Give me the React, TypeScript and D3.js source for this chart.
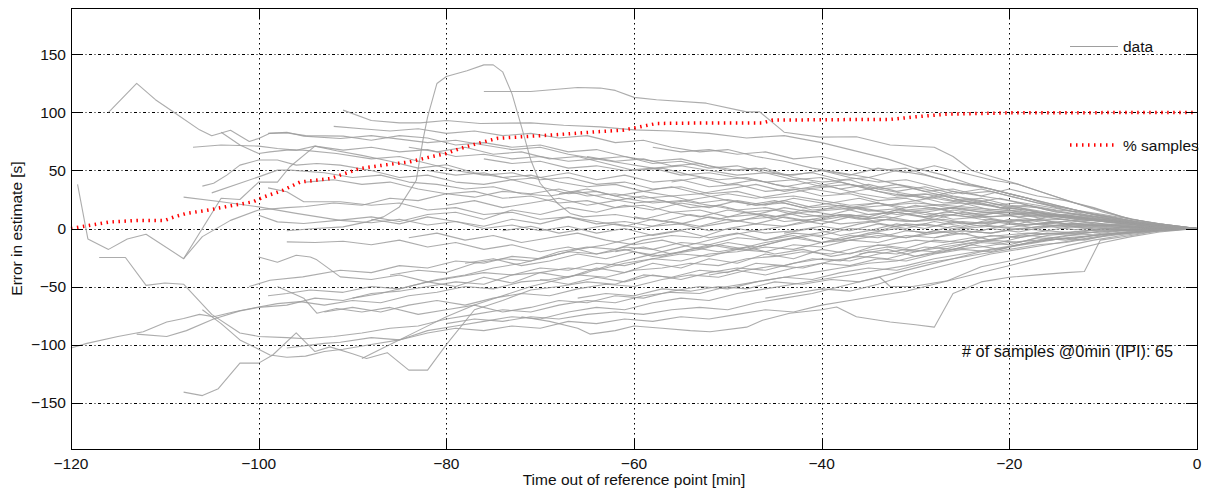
import React from 'react';
import * as d3 from 'd3';

// axis ticks
const xTicks = [-120, -100, -80, -60, -40, -20, 0];
const xTickLabels = ['−120', '−100', '−80', '−60', '−40', '−20', '0'];
const yTicks = [-150, -100, -50, 0, 50, 100, 150];
const yTickLabels = ['−150', '−100', '−50', '0', '50', '100', '150'];

// % of samples available at each time
const pctTime = [-120, -118.5, -116, -113, -110, -109, -107.7, -105.5, -102.7, -100.6, -99.5, -97.4, -95.6, -92.4, -89.2, -86.7, -83.9, -81.7, -80, -78.5, -76.8, -74.6, -73.2, -68, -64, -61.2, -60.1, -57.6, -52, -46.3, -45.2, -38, -32.7, -30.3, -26.7, -19.9, 0];
const pctValue = [0, 2, 5.5, 7, 7, 10, 13, 15.7, 20, 23, 27, 33, 40, 43, 51.7, 54.6, 57.4, 61.7, 64.6, 69, 73, 77.6, 78.4, 81, 83.3, 84.7, 86.4, 90.5, 91, 91, 93.4, 93.8, 94, 96, 98.5, 99.7, 100];

// error traces [minutes, seconds], one per sample
const traces: [number, number][][] = [
  [[-116,100],[-113,125],[-111,111],[-109,100],[-106.3,85],[-105,80],[-103,84.7],[-101,75],[-100,77.6],[-98.8,82],[-97,82.4],[-95,80],[-91,79.6],[-88,76],[-85,80],[-82,78],[-79,72],[-76,74],[-73,70],[-70,72],[-67,66],[-64,68],[-61,62],[-58,58],[-55,60],[-52,54],[-49,50],[-46,52],[-43,44],[-40,40],[-37,42],[-34,34],[-31,30],[-28,26],[-25,22],[-22,20],[-19,14],[-16,12],[-13,8],[-10,6],[-7,4],[-4,2],[0,0]],
  [[-119.3,38],[-118.2,-9],[-116,-18],[-114,-9],[-112,-5],[-108,-26],[-104,26],[-102,25],[-100,40],[-98,40],[-96.7,53],[-94,71],[-91.7,67],[-89,63],[-86,58],[-83,52],[-80,55],[-77,48],[-74,44],[-71,46],[-68,40],[-65,36],[-62,38],[-59,32],[-56,28],[-53,30],[-50,24],[-47,20],[-44,22],[-41,16],[-38,18],[-35,12],[-32,14],[-29,10],[-26,12],[-23,8],[-20,6],[-17,8],[-14,4],[-11,5],[-8,2],[-5,1],[0,0]],
  [[-108,-26],[-106,-7],[-103,7],[-100,16],[-97,18],[-95,19],[-92,22],[-89,20],[-86,26],[-83,24],[-80,30],[-77,27],[-74,32],[-71,30],[-68,34],[-65,28],[-62,30],[-59,26],[-56,28],[-53,22],[-50,25],[-47,20],[-44,24],[-41,18],[-38,20],[-35,15],[-32,17],[-29,12],[-26,14],[-23,10],[-20,11],[-17,7],[-14,8],[-11,4],[-8,3],[-5,1],[0,0]],
  [[-108,27],[-104,23],[-100,18.6],[-96,13],[-91.3,7],[-88,5],[-85,8],[-82,3],[-79,6],[-76,0],[-73,3],[-70,-2],[-67,2],[-64,-4],[-61,0],[-58,-6],[-55,-2],[-52,-8],[-49,-4],[-46,-10],[-43,-6],[-40,-12],[-37,-8],[-34,-4],[-31,-8],[-28,-2],[-25,-5],[-22,0],[-19,-3],[-16,2],[-13,-1],[-10,1],[-7,-1],[-4,0],[0,0]],
  [[-117,-25],[-114.2,-25],[-112,-49],[-110,-47],[-108,-48],[-105,-74],[-102,-90],[-100,-93],[-97,-94],[-95,-95],[-92,-93],[-89,-90],[-86,-86],[-83,-84],[-80,-78],[-77,-74],[-74,-70],[-71,-72],[-68,-66],[-65,-62],[-62,-64],[-59,-58],[-56,-55],[-53,-56],[-50,-50],[-47,-46],[-44,-42],[-41,-38],[-38,-34],[-35,-30],[-32,-28],[-29,-22],[-26,-18],[-23,-16],[-20,-12],[-17,-10],[-14,-6],[-11,-5],[-8,-2],[-5,-1],[0,0]],
  [[-106,-70],[-104,-82],[-102,-96],[-100,-104],[-98.8,-109],[-97,-111],[-95,-110],[-93,-106],[-91,-104],[-88,-100],[-85,-96],[-82,-88],[-79,-84],[-76,-80],[-73,-76],[-70,-78],[-67,-72],[-64,-68],[-61,-70],[-58,-64],[-55,-60],[-52,-62],[-49,-56],[-46,-52],[-43,-48],[-40,-44],[-37,-40],[-34,-36],[-31,-32],[-28,-26],[-25,-22],[-22,-18],[-19,-14],[-16,-10],[-13,-8],[-10,-5],[-7,-3],[-4,-1],[0,0]],
  [[-108,-141],[-106,-144],[-104.3,-138],[-102,-116],[-100,-116],[-98.5,-109],[-96,-90],[-94,-106],[-92.4,-102],[-90,-108],[-88.5,-112],[-86.3,-107],[-84,-122],[-82,-122],[-80,-100],[-77,-70],[-74,-62],[-71,-53],[-68,-50],[-65,-46],[-62,-48],[-59,-40],[-56,-42],[-53,-36],[-50,-38],[-47,-30],[-44,-32],[-41,-26],[-38,-28],[-35,-20],[-32,-22],[-29,-16],[-26,-18],[-23,-12],[-20,-14],[-17,-8],[-14,-10],[-11,-6],[-8,-4],[-5,-2],[0,0]],
  [[-120,-103],[-118.3,-99],[-115,-93],[-112.3,-89],[-109.8,-80.5],[-108,-77.6],[-106.3,-74],[-104.8,-76],[-102.7,-72],[-100,-67.6],[-98,-64.7],[-95.6,-63],[-93,-66],[-90,-62],[-87,-64],[-84,-58],[-81,-55],[-78,-50],[-75,-52],[-72,-46],[-69,-44],[-66,-40],[-63,-42],[-60,-36],[-57,-34],[-54,-30],[-51,-32],[-48,-26],[-45,-24],[-42,-20],[-39,-22],[-36,-16],[-33,-14],[-30,-10],[-27,-12],[-24,-8],[-21,-6],[-18,-4],[-15,-5],[-12,-2],[-9,-1],[-5,0],[0,0]],
  [[-113,-91],[-109.8,-93],[-107.7,-88],[-104.8,-78],[-102,-71],[-100,-68],[-97,-66],[-94,-60],[-91,-62],[-88,-56],[-85,-54],[-82,-50],[-79,-46],[-76,-48],[-73,-40],[-70,-38],[-67,-34],[-64,-36],[-61,-30],[-58,-26],[-55,-28],[-52,-22],[-49,-20],[-46,-16],[-43,-18],[-40,-12],[-37,-10],[-34,-6],[-31,-8],[-28,-4],[-25,-2],[-22,-4],[-19,0],[-16,2],[-13,4],[-10,3],[-6,1],[0,0]],
  [[-76,118],[-71,118],[-66,121.5],[-63.6,121],[-62,119],[-60,113],[-57.6,111],[-52.3,108],[-48,100.5],[-46.6,100.5],[-44,83],[-40.2,78.7],[-36.3,79],[-32.7,72],[-28,70],[-26,62],[-24,50],[-22,45],[-19,38],[-16,30],[-13,22],[-10,15],[-7,8],[-4,4],[0,0]],
  [[-97,-2],[-94,0],[-91,1.4],[-88.5,5.7],[-86.7,10],[-85,18.6],[-83.2,41.6],[-82.5,76],[-82,96],[-81,125],[-80,131],[-77.8,136],[-76,141],[-75,141],[-74,135],[-73,116],[-72,88],[-71,59],[-70,39],[-68.2,22],[-66.8,13],[-65.4,10],[-62,12],[-59,8],[-56,14],[-53,10],[-50,16],[-47,12],[-44,18],[-41,14],[-38,20],[-35,16],[-32,12],[-29,14],[-26,8],[-23,10],[-20,6],[-17,8],[-14,4],[-11,3],[-8,2],[-5,1],[0,0]],
  [[-91,102],[-88,93],[-85,91],[-82.8,91],[-80,93],[-76.4,90.5],[-71,91],[-67.5,89],[-63.6,87.6],[-60,85],[-56,84],[-52,82],[-48,78],[-44,80],[-40,74],[-36,66],[-33,60],[-30,52],[-27,46],[-24,38],[-21,32],[-18,26],[-15,18],[-12,12],[-9,8],[-6,4],[-3,2],[0,0]],
  [[-107,70],[-104,72],[-100,71],[-98,69],[-96,67.5],[-94,71],[-91,67.5],[-88,70],[-85,66],[-82,68],[-79,62],[-76,64],[-73,60],[-70,62],[-67,58],[-64,60],[-61,56],[-58,52],[-55,54],[-52,50],[-49,46],[-46,48],[-43,42],[-40,44],[-37,38],[-34,34],[-31,36],[-28,30],[-25,26],[-22,22],[-19,18],[-16,14],[-13,10],[-10,8],[-7,5],[-4,2],[0,0]],
  [[-104,83],[-102,72],[-100,64.6],[-98.8,66],[-97,67.5],[-95.3,67.5],[-91.7,64.6],[-88,60],[-85,62],[-82,56],[-79,50],[-76,46],[-73,48],[-70,42],[-67,44],[-64,38],[-61,40],[-58,34],[-55,36],[-52,30],[-49,32],[-46,26],[-43,28],[-40,24],[-37,20],[-34,22],[-31,18],[-28,20],[-25,16],[-22,14],[-19,16],[-16,10],[-13,12],[-10,8],[-7,5],[-4,3],[0,0]],
  [[-106,36.5],[-104.8,39],[-103.4,46],[-102,54.6],[-100,59],[-98,59],[-96,54.6],[-93.8,56],[-91.3,54.6],[-88,50],[-85,44],[-82,46],[-79,40],[-76,38],[-73,42],[-70,36],[-67,30],[-64,32],[-61,26],[-58,22],[-55,24],[-52,20],[-49,16],[-46,18],[-43,14],[-40,10],[-37,12],[-34,8],[-31,6],[-28,8],[-25,4],[-22,6],[-19,3],[-16,5],[-13,2],[-10,3],[-6,1],[0,0]],
  [[-99,82],[-97,83],[-95.2,79.6],[-91.3,77.6],[-88,80],[-85,77],[-82,74],[-79,76],[-76,72],[-73,68],[-70,70],[-67,64],[-64,60],[-61,62],[-58,56],[-55,58],[-52,52],[-49,54],[-46,48],[-43,46],[-40,50],[-37,44],[-34,40],[-31,42],[-28,36],[-25,30],[-22,32],[-19,26],[-16,20],[-13,16],[-10,12],[-7,8],[-4,4],[0,0]],
  [[-105,30.7],[-100,44.5],[-98,50.3],[-96.6,50.3],[-93,48],[-90,44],[-87,46],[-84,40],[-81,38],[-78,34],[-75,36],[-72,30],[-69,28],[-66,32],[-63,26],[-60,22],[-57,24],[-54,18],[-51,20],[-48,14],[-45,16],[-42,10],[-39,12],[-36,8],[-33,10],[-30,6],[-27,8],[-24,4],[-21,6],[-18,3],[-15,5],[-12,2],[-9,3],[-6,1],[0,0]],
  [[-99,35],[-97,31.6],[-95.2,23],[-91.3,23],[-88,20],[-85,22],[-82,16],[-79,18],[-76,12],[-73,14],[-70,8],[-67,10],[-64,4],[-61,6],[-58,2],[-55,4],[-52,-2],[-49,0],[-46,-4],[-43,-2],[-40,2],[-37,-2],[-34,4],[-31,0],[-28,6],[-25,2],[-22,8],[-19,4],[-16,10],[-13,6],[-10,8],[-7,4],[-4,2],[0,0]],
  [[-100,11.5],[-98,5.7],[-95.2,4.3],[-91.3,7.2],[-88,10],[-85,6],[-82,12],[-79,14],[-76,8],[-73,16],[-70,12],[-67,18],[-64,14],[-61,20],[-58,16],[-55,22],[-52,18],[-49,24],[-46,20],[-43,26],[-40,22],[-37,18],[-34,22],[-31,16],[-28,18],[-25,12],[-22,14],[-19,10],[-16,12],[-13,8],[-10,6],[-7,4],[-4,2],[0,0]],
  [[-100,-24.5],[-98,-29],[-96,-23],[-94.5,-24.5],[-93.8,-27],[-91.3,-41.7],[-88,-44],[-85,-40],[-82,-46],[-79,-42],[-76,-38],[-73,-40],[-70,-34],[-67,-36],[-64,-30],[-61,-32],[-58,-26],[-55,-22],[-52,-24],[-49,-18],[-46,-20],[-43,-14],[-40,-16],[-37,-10],[-34,-12],[-31,-6],[-28,-8],[-25,-2],[-22,-4],[-19,0],[-16,-2],[-13,2],[-10,0],[-7,1],[-4,0],[0,0]],
  [[-97,-11.5],[-94,-12],[-91,-11],[-88,-14],[-85,-10],[-82,-16],[-79,-12],[-76,-18],[-73,-14],[-70,-20],[-67,-16],[-64,-22],[-61,-18],[-58,-24],[-55,-20],[-52,-14],[-49,-18],[-46,-12],[-43,-8],[-40,-12],[-37,-6],[-34,-8],[-31,-2],[-28,-4],[-25,0],[-22,2],[-19,-1],[-16,3],[-13,1],[-10,2],[-7,0],[-4,1],[0,0]],
  [[-101,-50],[-98.8,-44.6],[-95.3,-41.7],[-91.3,-36],[-88,-38],[-85,-32],[-82,-34],[-79,-28],[-76,-30],[-73,-24],[-70,-26],[-67,-20],[-64,-22],[-61,-16],[-58,-18],[-55,-12],[-52,-14],[-49,-8],[-46,-10],[-43,-4],[-40,-6],[-37,0],[-34,-2],[-31,4],[-28,2],[-25,6],[-22,4],[-19,8],[-16,5],[-13,7],[-10,4],[-7,3],[-4,1],[0,0]],
  [[-99,-58],[-97,-56],[-94.5,-53],[-91,-55],[-88,-50],[-85,-52],[-82,-46],[-79,-50],[-76,-42],[-73,-47],[-70,-38],[-67,-42],[-64,-34],[-61,-38],[-58,-30],[-55,-34],[-52,-26],[-49,-30],[-46,-22],[-43,-26],[-40,-18],[-37,-22],[-34,-14],[-31,-17],[-28,-10],[-25,-12],[-22,-6],[-19,-8],[-16,-4],[-13,-5],[-10,-2],[-7,-2],[-4,-1],[0,0]],
  [[-98,-50],[-95.2,-60],[-93.8,-73],[-91.7,-69],[-89,-72],[-86,-68],[-83,-74],[-80,-70],[-77,-66],[-74,-72],[-71,-68],[-68,-62],[-65,-64],[-62,-58],[-59,-60],[-56,-54],[-53,-50],[-50,-52],[-47,-46],[-44,-42],[-41,-44],[-38,-38],[-35,-34],[-32,-36],[-29,-30],[-26,-26],[-23,-22],[-20,-18],[-17,-14],[-14,-12],[-11,-8],[-8,-5],[-5,-2],[0,0]],
  [[-97,-103],[-93,-99],[-91.3,-98],[-88,-94],[-85,-96],[-82,-90],[-79,-86],[-76,-88],[-73,-84],[-70,-86],[-67,-80],[-64,-82],[-61,-78],[-58,-80],[-55,-76],[-52,-78],[-49,-74],[-46,-70],[-43,-72],[-40,-66],[-37,-62],[-34,-58],[-31,-54],[-28,-48],[-25,-42],[-22,-36],[-19,-30],[-16,-24],[-13,-18],[-10,-12],[-7,-7],[-4,-3],[0,0]],
  [[-72,-76],[-69,-80],[-66,-86],[-64.7,-91],[-62,-88],[-60,-84],[-57,-86],[-54,-88],[-51.9,-89],[-48,-85],[-46.3,-79],[-43.4,-73],[-40,-70],[-38.4,-67.6],[-36.3,-76],[-32.7,-80.5],[-30,-83],[-28,-85],[-26,-56],[-23,-46],[-20,-42],[-17,-40],[-14,-38],[-12,-37],[-10.3,-10],[-7,-6],[-4,-2],[0,0]],
  [[-66,-60],[-63,-56],[-60,-58],[-57,-52],[-54,-54],[-51,-50],[-48,-52],[-45,-46],[-42,-48],[-39,-44],[-36,-46],[-33.8,-42],[-32.7,-50],[-30.3,-50],[-26.6,-45],[-23,-33],[-20,-28],[-17,-22],[-14,-15],[-11,-10],[-8,-6],[-5,-3],[0,0]],
  [[-92,88],[-89,86],[-86,84],[-83,86],[-80,82],[-77,84],[-74,80],[-71,82],[-68,78],[-65,80],[-62,74],[-59,76],[-56,70],[-53,66],[-50,68],[-47,62],[-44,58],[-41,52],[-38,48],[-35,44],[-32,38],[-29,34],[-26,28],[-23,24],[-20,18],[-17,14],[-14,10],[-11,7],[-8,4],[-5,2],[0,0]],
  [[-95,40],[-92,42],[-89,38],[-86,40],[-83,34],[-80,30],[-77,32],[-74,26],[-71,28],[-68,22],[-65,24],[-62,18],[-59,20],[-56,14],[-53,16],[-50,10],[-47,12],[-44,6],[-41,8],[-38,4],[-35,6],[-32,2],[-29,4],[-26,0],[-23,3],[-20,1],[-17,4],[-14,2],[-11,3],[-8,1],[-5,1],[0,0]],
  [[-90,-60],[-87,-56],[-84,-50],[-81,-44],[-78,-40],[-75,-34],[-72,-30],[-69,-24],[-66,-18],[-63,-14],[-60,-8],[-57,-4],[-54,0],[-51,4],[-48,8],[-45,10],[-42,14],[-39,16],[-36,18],[-33,20],[-30,22],[-27,20],[-24,18],[-21,16],[-18,14],[-15,12],[-12,9],[-9,6],[-6,3],[-3,1],[0,0]],
  [[-89,-112],[-86,-100],[-83,-88],[-80,-76],[-77,-66],[-74,-58],[-71,-50],[-68,-44],[-65,-38],[-62,-30],[-59,-24],[-56,-18],[-53,-12],[-50,-6],[-47,-2],[-44,2],[-41,6],[-38,10],[-35,12],[-32,14],[-29,16],[-26,18],[-23,16],[-20,14],[-17,12],[-14,10],[-11,8],[-8,5],[-5,3],[0,0]],
  [[-86,-40],[-83,-36],[-80,-38],[-77,-30],[-74,-26],[-71,-28],[-68,-20],[-65,-16],[-62,-18],[-59,-10],[-56,-6],[-53,-8],[-50,0],[-47,4],[-44,2],[-41,8],[-38,12],[-35,10],[-32,16],[-29,14],[-26,18],[-23,14],[-20,12],[-17,14],[-14,10],[-11,8],[-8,6],[-5,3],[0,0]],
  [[-84,-8],[-81,-4],[-78,-10],[-75,-6],[-72,-12],[-69,-8],[-66,-4],[-63,-10],[-60,-14],[-57,-10],[-54,-16],[-51,-20],[-48,-16],[-45,-22],[-42,-18],[-39,-24],[-36,-20],[-33,-16],[-30,-20],[-27,-14],[-24,-10],[-21,-12],[-18,-6],[-15,-8],[-12,-4],[-9,-2],[-6,-1],[0,0]],
  [[-82,50],[-79,46],[-76,48],[-73,42],[-70,44],[-67,48],[-64,42],[-61,46],[-58,40],[-55,42],[-52,36],[-49,38],[-46,32],[-43,34],[-40,28],[-37,30],[-34,24],[-31,26],[-28,20],[-25,22],[-22,16],[-19,18],[-16,12],[-13,10],[-10,7],[-7,4],[-4,2],[0,0]],
  [[-80,20],[-77,24],[-74,18],[-71,22],[-68,26],[-65,20],[-62,24],[-59,28],[-56,22],[-53,26],[-50,30],[-47,26],[-44,30],[-41,34],[-38,30],[-35,34],[-32,28],[-29,30],[-26,24],[-23,26],[-20,20],[-17,18],[-14,14],[-11,10],[-8,6],[-5,3],[0,0]],
  [[-78,-30],[-75,-26],[-72,-32],[-69,-28],[-66,-22],[-63,-26],[-60,-20],[-57,-24],[-54,-18],[-51,-14],[-48,-18],[-45,-12],[-42,-6],[-39,-2],[-36,4],[-33,8],[-30,6],[-27,12],[-24,10],[-21,14],[-18,12],[-15,10],[-12,8],[-9,5],[-6,3],[0,0]],
  [[-76,60],[-73,56],[-70,58],[-67,52],[-64,54],[-61,50],[-58,52],[-55,46],[-52,48],[-49,44],[-46,40],[-43,42],[-40,36],[-37,38],[-34,32],[-31,28],[-28,30],[-25,24],[-22,20],[-19,22],[-16,16],[-13,12],[-10,9],[-7,6],[-4,3],[0,0]],
  [[-74,-2],[-71,2],[-68,-4],[-65,0],[-62,4],[-59,0],[-56,6],[-53,2],[-50,8],[-47,4],[-44,10],[-41,6],[-38,12],[-35,8],[-32,14],[-29,10],[-26,16],[-23,12],[-20,14],[-17,10],[-14,12],[-11,8],[-8,5],[-5,2],[0,0]],
  [[-70,-44],[-67,-48],[-64,-42],[-61,-46],[-58,-40],[-55,-44],[-52,-38],[-49,-34],[-46,-36],[-43,-30],[-40,-26],[-37,-28],[-34,-22],[-31,-18],[-28,-20],[-25,-14],[-22,-10],[-19,-12],[-16,-6],[-13,-4],[-10,-3],[-7,-1],[0,0]],
  [[-68,30],[-65,34],[-62,28],[-59,32],[-56,36],[-53,30],[-50,34],[-47,38],[-44,32],[-41,36],[-38,40],[-35,34],[-32,38],[-29,32],[-26,34],[-23,28],[-20,24],[-17,20],[-14,16],[-11,12],[-8,8],[-5,4],[0,0]],
  [[-65,62],[-62,58],[-59,60],[-56,54],[-53,56],[-50,50],[-47,52],[-44,46],[-41,48],[-38,42],[-35,44],[-32,50],[-29,46],[-26,40],[-23,36],[-20,30],[-17,24],[-14,18],[-11,12],[-8,8],[-5,4],[0,0]],
  [[-62,-20],[-59,-16],[-56,-22],[-53,-18],[-50,-12],[-47,-16],[-44,-10],[-41,-6],[-38,-10],[-35,-4],[-32,0],[-29,-4],[-26,2],[-23,-2],[-20,4],[-17,0],[-14,3],[-11,-1],[-8,1],[-5,0],[0,0]],
  [[-60,10],[-57,6],[-54,12],[-51,8],[-48,14],[-45,10],[-42,16],[-39,12],[-36,18],[-33,14],[-30,20],[-27,16],[-24,22],[-21,18],[-18,20],[-15,14],[-12,12],[-9,8],[-6,4],[-3,2],[0,0]],
  [[-56,40],[-53,44],[-50,38],[-47,42],[-44,36],[-41,40],[-38,34],[-35,38],[-32,32],[-29,36],[-26,30],[-23,34],[-20,28],[-17,22],[-14,18],[-11,12],[-8,8],[-5,4],[0,0]],
  [[-52,-40],[-49,-36],[-46,-40],[-43,-34],[-40,-30],[-37,-32],[-34,-26],[-31,-28],[-28,-22],[-25,-18],[-22,-20],[-19,-14],[-16,-10],[-13,-8],[-10,-5],[-7,-3],[-4,-1],[0,0]],
  [[-48,20],[-45,24],[-42,18],[-39,22],[-36,26],[-33,20],[-30,24],[-27,28],[-24,22],[-21,26],[-18,20],[-15,16],[-12,14],[-9,10],[-6,5],[-3,2],[0,0]],
  [[-44,-4],[-41,0],[-38,-6],[-35,-2],[-32,4],[-29,0],[-26,6],[-23,2],[-20,8],[-17,4],[-14,6],[-11,2],[-8,3],[-5,1],[0,0]],
  [[-40,50],[-37,46],[-34,52],[-31,48],[-28,54],[-25,48],[-22,42],[-19,38],[-16,30],[-13,22],[-10,14],[-7,8],[-4,4],[0,0]],
  [[-36,-22],[-33,-18],[-30,-24],[-27,-20],[-24,-14],[-21,-18],[-18,-12],[-15,-8],[-12,-10],[-9,-5],[-6,-3],[-3,-1],[0,0]],
  [[-32,30],[-29,26],[-26,32],[-23,28],[-20,34],[-17,28],[-14,24],[-11,18],[-8,10],[-5,5],[0,0]],
  [[-28,-8],[-25,-4],[-22,-10],[-19,-6],[-16,-2],[-13,-4],[-10,0],[-7,-2],[-4,0],[0,0]],
  [[-88,8],[-85,4],[-82,10],[-79,6],[-76,2],[-73,8],[-70,4],[-67,10],[-64,6],[-61,2],[-58,8],[-55,4],[-52,10],[-49,6],[-46,12],[-43,8],[-40,4],[-37,10],[-34,6],[-31,12],[-28,8],[-25,14],[-22,10],[-19,12],[-16,8],[-13,10],[-10,6],[-7,4],[-4,2],[0,0]],
  [[-93,-72],[-90,-68],[-87,-72],[-84,-66],[-81,-62],[-78,-66],[-75,-60],[-72,-56],[-69,-58],[-66,-52],[-63,-48],[-60,-50],[-57,-44],[-54,-40],[-51,-42],[-48,-36],[-45,-32],[-42,-34],[-39,-28],[-36,-24],[-33,-26],[-30,-20],[-27,-16],[-24,-12],[-21,-8],[-18,-6],[-15,-4],[-12,-2],[-9,-1],[0,0]],
  [[-58,70],[-55,66],[-52,68],[-49,64],[-46,66],[-43,60],[-40,62],[-37,56],[-34,50],[-31,52],[-28,44],[-25,38],[-22,34],[-19,28],[-16,22],[-13,16],[-10,10],[-7,6],[-4,3],[0,0]],
  [[-46,-60],[-43,-56],[-40,-52],[-37,-54],[-34,-48],[-31,-40],[-28,-34],[-25,-28],[-22,-22],[-19,-18],[-16,-14],[-13,-10],[-10,-6],[-7,-4],[-4,-2],[0,0]],
  [[-84,70],[-81,66],[-78,70],[-75,64],[-72,66],[-69,60],[-66,62],[-63,56],[-60,50],[-57,52],[-54,46],[-51,42],[-48,44],[-45,38],[-42,34],[-39,36],[-36,30],[-33,26],[-30,28],[-27,22],[-24,24],[-21,18],[-18,16],[-15,12],[-12,10],[-9,6],[-6,3],[0,0]],
  [[-80,-82],[-77,-78],[-74,-80],[-71,-76],[-68,-78],[-65,-74],[-62,-72],[-59,-74],[-56,-70],[-53,-68],[-50,-70],[-47,-64],[-44,-60],[-41,-56],[-38,-50],[-35,-44],[-32,-38],[-29,-32],[-26,-26],[-23,-20],[-20,-16],[-17,-12],[-14,-8],[-11,-6],[-8,-3],[-5,-1],[0,0]],
];

const FONT = '"Liberation Sans", Arial, Helvetica, sans-serif';

export default function App() {
  const W = 1214;
  const H = 492;
  const left = 71, right = 1197, top = 8, bottom = 449;
  const tickLen = 11;

  const x = d3.scaleLinear().domain([-120, 0]).range([left, right]);
  const y = d3.scaleLinear().domain([-190, 190]).range([bottom, top]);

  const line = d3.line<[number, number]>()
    .x(d => x(d[0]))
    .y(d => y(d[1]));

  const pctPoints: [number, number][] = pctTime.map((t, i) => [t, pctValue[i]]);
  const px = (v: number) => Math.round(v) + 0.5;

  return (
    <svg width={W} height={H} style={{ position: 'absolute', left: 0, top: 0, background: '#fff' }}
      fontFamily={FONT}>
      <rect x={0} y={0} width={W} height={H} fill="#fff" />

      {/* grid */}
      <g stroke="#000" strokeWidth={1} fill="none">
        {xTicks.slice(1, -1).map(t => (
          <line key={'gx' + t} x1={px(x(t))} x2={px(x(t))} y1={top} y2={bottom} strokeDasharray="1.5,3.5" />
        ))}
        {yTicks.map(t => (
          <line key={'gy' + t} x1={left} x2={right} y1={px(y(t))} y2={px(y(t))} strokeDasharray="3,2.5,1,2.5" />
        ))}
      </g>

      {/* data traces */}
      <g fill="none" stroke="#9e9e9e" strokeWidth={1.1} strokeOpacity={0.85} strokeLinejoin="round">
        {traces.map((tr, i) => (
          <path key={i} d={line(tr) || ''} />
        ))}
      </g>

      {/* % samples */}
      <path d={line(pctPoints) || ''} fill="none" stroke="#ff0000" strokeWidth={3.5}
        strokeDasharray="1.5,4.5" />

      {/* axes box and ticks */}
      <g stroke="#000" strokeWidth={1} fill="none">
        <rect x={px(left)} y={px(top)} width={Math.round(right - left)} height={Math.round(bottom - top)} />
        {xTicks.map(t => (
          <g key={'tx' + t}>
            <line x1={px(x(t))} x2={px(x(t))} y1={bottom} y2={bottom - tickLen} />
            <line x1={px(x(t))} x2={px(x(t))} y1={top} y2={top + tickLen} />
          </g>
        ))}
        {yTicks.map(t => (
          <g key={'ty' + t}>
            <line x1={left} x2={left + tickLen} y1={px(y(t))} y2={px(y(t))} />
            <line x1={right - tickLen} x2={right} y1={px(y(t))} y2={px(y(t))} />
          </g>
        ))}
      </g>

      {/* tick labels */}
      <g fontSize={15.5} fill="#111">
        {xTicks.map((t, i) => (
          <text key={'lx' + t} x={x(t)} y={468.5} textAnchor="middle">{xTickLabels[i]}</text>
        ))}
        {yTicks.map((t, i) => (
          <text key={'ly' + t} x={66} y={y(t) + 5.5} textAnchor="end">{yTickLabels[i]}</text>
        ))}
      </g>

      {/* axis titles */}
      <text x={(left + right) / 2} y={485} textAnchor="middle" fontSize={15.5} fill="#111">
        Time out of reference point [min]
      </text>
      <text transform={`translate(22,${(top + bottom) / 2}) rotate(-90)`} textAnchor="middle" fontSize={15.5} fill="#111">
        Error in estimate [s]
      </text>

      {/* legend */}
      <line x1={1070} x2={1118} y1={46.5} y2={46.5} stroke="#9e9e9e" strokeWidth={1.1} />
      <text x={1123} y={52} fontSize={15.5} fill="#111">data</text>
      <line x1={1070} x2={1114} y1={145} y2={145} stroke="#ff0000" strokeWidth={3.5} strokeDasharray="1.5,4.5" />
      <text x={1123} y={150.5} fontSize={15.5} fill="#111">% samples</text>

      {/* annotation */}
      <text x={962} y={357} fontSize={16.3} fill="#111"># of samples @0min (IPI): 65</text>
    </svg>
  );
}
